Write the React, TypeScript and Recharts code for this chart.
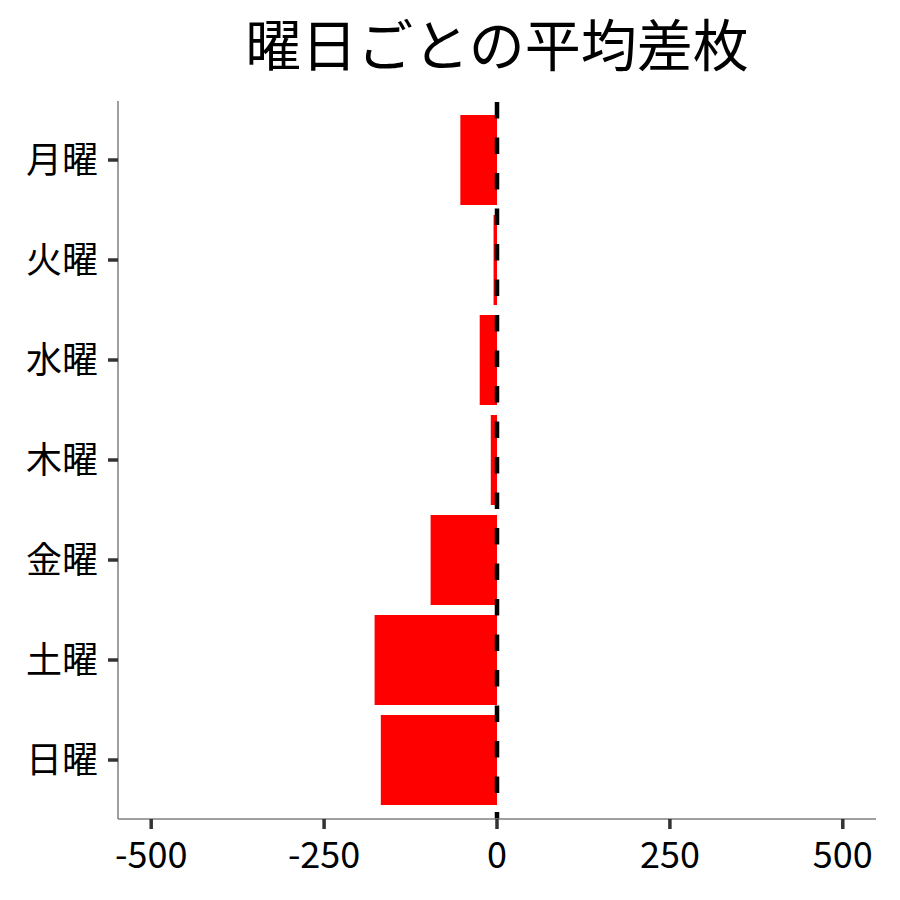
import { BarChart, Bar, XAxis, YAxis, ReferenceLine } from "recharts";

// 曜日ごとの平均差枚
const days = ["月曜", "火曜", "水曜", "木曜", "金曜", "土曜", "日曜"];
const diffs = [-53, -5, -25, -9, -96, -177, -168];
const xTicks = [-500, -250, 0, 250, 500];

const data = days.map((day, i) => ({ day, diff: diffs[i] }));

const font = '"Noto Sans CJK JP", "Noto Sans", sans-serif';
const tickStyle = { fontSize: 36, fill: "#000", fontFamily: font };
const axisLine = { stroke: "#7f7f7f", strokeWidth: 1.5 };
const tickLine = { stroke: "#333333", strokeWidth: 3.5 };

export default function App() {
  return (
    <div style={{ position: "relative", width: 900, height: 900, background: "#fff" }}>
      <style>{`body { margin: 0; }`}</style>
      <svg width={900} height={100} style={{ position: "absolute", left: 0, top: 0 }}>
        <text x={497} y={66} textAnchor="middle" fontSize={56} fontFamily={font} fill="#000">
          曜日ごとの平均差枚
        </text>
      </svg>
      <BarChart
        width={900}
        height={900}
        data={data}
        layout="vertical"
        margin={{ top: 101, right: 24, bottom: 0, left: 0 }}
      >
        <XAxis
          type="number"
          domain={[-548, 548]}
          ticks={xTicks}
          height={81}
          tick={tickStyle}
          tickSize={10}
          tickMargin={13}
          axisLine={axisLine}
          tickLine={tickLine}
        />
        <YAxis
          type="category"
          dataKey="day"
          width={118}
          padding={{ top: 9, bottom: 9 }}
          tick={tickStyle}
          tickSize={10}
          tickMargin={10}
          axisLine={axisLine}
          tickLine={tickLine}
        />
        <YAxis yAxisId="ref" type="number" domain={[0, 1]} hide />
        <Bar dataKey="diff" fill="#ff0000" barSize={90} isAnimationActive={false} />
        <ReferenceLine
          x={0}
          yAxisId="ref"
          stroke="#000"
          strokeWidth={4.5}
          strokeDasharray="16.5 19"
          strokeDashoffset={9.5}
        />
      </BarChart>
    </div>
  );
}
